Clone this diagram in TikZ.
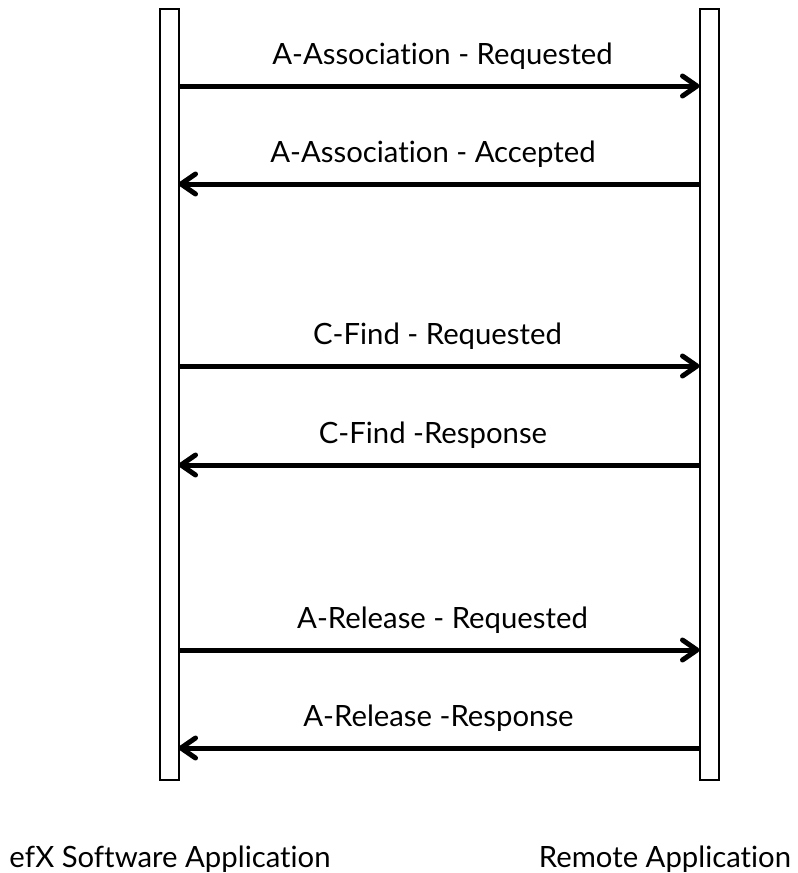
\documentclass[tikz,border=0pt]{standalone}
\usepackage{fontspec}
\setmainfont{Lato}[Ligatures={NoCommon}]
\usetikzlibrary{arrows.meta,calc}
\begin{document}
\begin{tikzpicture}[x=1pt,y=-1pt,
  lifeline/.style={draw=black,line width=2pt,fill=white,minimum width=19pt,minimum height=771pt,inner sep=0pt,outer sep=0pt},
  msg/.style={line width=5pt,-{Straight Barb[length=14.5pt,width=20pt,line cap=round,line join=round]}},
  msglabel/.style={anchor=base,inner sep=0pt,font=\fontsize{29.3}{35}\selectfont},
  actor/.style={anchor=base,inner sep=0pt,font=\fontsize{29.3}{35}\selectfont}]
  \useasboundingbox (0,0) rectangle (798,873);
  % lifelines
  \node[lifeline] (L) at (169,394.5) {};
  \node[lifeline] (R) at (709,394.5) {};
  % message arrows: y position / label / direction / label shift
  \foreach \y/\txt/\dir/\dx in {86/A-Association - Requested/r/3.5,
                                184/A-Association - Accepted/l/-6,
                                366/C-Find - Requested/r/-1.5,
                                465/C-Find -Response/l/-6,
                                650/A-Release - Requested/r/3.5,
                                748/A-Release -Response/l/-0.5}{
    \coordinate (a) at (L.east |- 0,\y);
    \coordinate (b) at (R.west |- 0,\y);
    \if r\dir
      \draw[msg] (a) -- (b);
    \else
      \draw[msg] (b) -- (a);
    \fi
    \node[msglabel] (t\y) at ($(a)!0.5!(b)+(\dx,-22)$) {\txt};
  }
  % participants
  \node[actor] (nL) at (170,867) {efX Software Application};
  \node[actor] (nR) at (665,867) {Remote Application};
\end{tikzpicture}
\end{document}
